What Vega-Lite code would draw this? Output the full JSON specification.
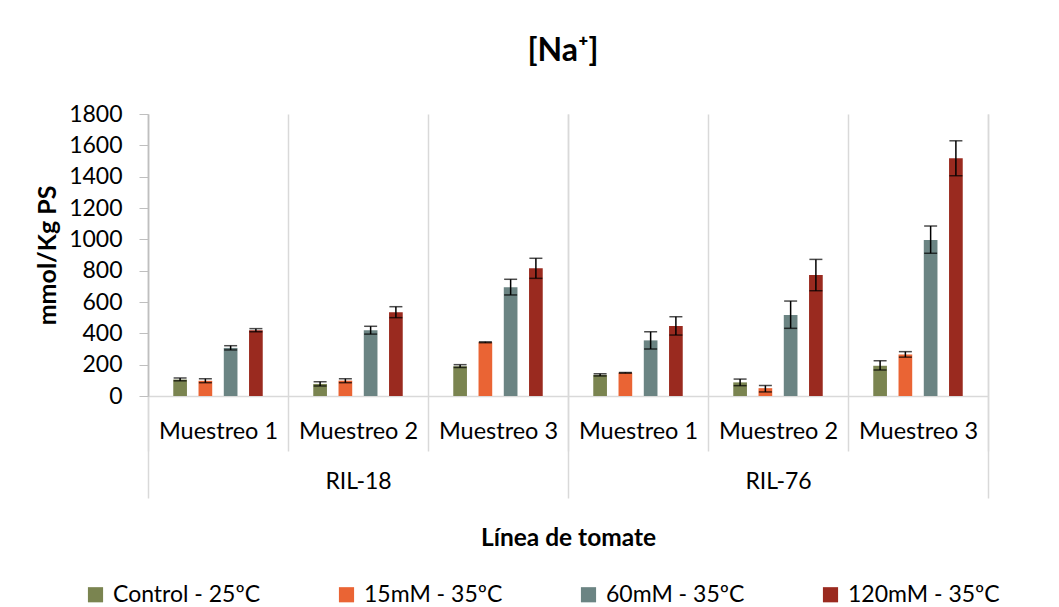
{
  "$schema": "https://vega.github.io/schema/vega-lite/v6.json",
  "autosize": "none",
  "width": 840,
  "height": 282,
  "padding": {"left": 148, "top": 114, "right": 71, "bottom": 211},
  "background": "white",
  "title": {"text": "[Na⁺]", "font": "Lato", "fontSize": 32, "fontWeight": "bold", "color": "#000000", "anchor": "middle", "frame": "group", "baseline": "middle", "offset": 20, "dx": -5},
  "config": {
    "view": {"stroke": null},
    "font": "Lato",
    "axis": {"labelFont": "Lato", "titleFont": "Lato", "labelColor": "#000000", "titleColor": "#000000"}
  },
  "data": {"values": [
    {"line": "RIL-18", "cat": "RIL-18|Muestreo 1", "serie": "Control - 25ºC", "value": 105, "lo": 97, "hi": 115},
    {"line": "RIL-18", "cat": "RIL-18|Muestreo 1", "serie": "15mM - 35ºC", "value": 97, "lo": 85, "hi": 110},
    {"line": "RIL-18", "cat": "RIL-18|Muestreo 1", "serie": "60mM - 35ºC", "value": 307, "lo": 294, "hi": 321},
    {"line": "RIL-18", "cat": "RIL-18|Muestreo 1", "serie": "120mM - 35ºC", "value": 420, "lo": 410, "hi": 430},
    {"line": "RIL-18", "cat": "RIL-18|Muestreo 2", "serie": "Control - 25ºC", "value": 77, "lo": 64, "hi": 91},
    {"line": "RIL-18", "cat": "RIL-18|Muestreo 2", "serie": "15mM - 35ºC", "value": 98, "lo": 85, "hi": 110},
    {"line": "RIL-18", "cat": "RIL-18|Muestreo 2", "serie": "60mM - 35ºC", "value": 420, "lo": 395, "hi": 445},
    {"line": "RIL-18", "cat": "RIL-18|Muestreo 2", "serie": "120mM - 35ºC", "value": 535, "lo": 500, "hi": 570},
    {"line": "RIL-18", "cat": "RIL-18|Muestreo 3", "serie": "Control - 25ºC", "value": 190, "lo": 182, "hi": 200},
    {"line": "RIL-18", "cat": "RIL-18|Muestreo 3", "serie": "15mM - 35ºC", "value": 343, "lo": 340, "hi": 346},
    {"line": "RIL-18", "cat": "RIL-18|Muestreo 3", "serie": "60mM - 35ºC", "value": 694, "lo": 645, "hi": 745},
    {"line": "RIL-18", "cat": "RIL-18|Muestreo 3", "serie": "120mM - 35ºC", "value": 815, "lo": 751, "hi": 879},
    {"line": "RIL-76", "cat": "RIL-76|Muestreo 1", "serie": "Control - 25ºC", "value": 135, "lo": 128, "hi": 142},
    {"line": "RIL-76", "cat": "RIL-76|Muestreo 1", "serie": "15mM - 35ºC", "value": 148, "lo": 146, "hi": 150},
    {"line": "RIL-76", "cat": "RIL-76|Muestreo 1", "serie": "60mM - 35ºC", "value": 355, "lo": 300, "hi": 410},
    {"line": "RIL-76", "cat": "RIL-76|Muestreo 1", "serie": "120mM - 35ºC", "value": 447, "lo": 389, "hi": 506},
    {"line": "RIL-76", "cat": "RIL-76|Muestreo 2", "serie": "Control - 25ºC", "value": 87, "lo": 66, "hi": 108},
    {"line": "RIL-76", "cat": "RIL-76|Muestreo 2", "serie": "15mM - 35ºC", "value": 50, "lo": 26, "hi": 67},
    {"line": "RIL-76", "cat": "RIL-76|Muestreo 2", "serie": "60mM - 35ºC", "value": 517, "lo": 432, "hi": 606},
    {"line": "RIL-76", "cat": "RIL-76|Muestreo 2", "serie": "120mM - 35ºC", "value": 772, "lo": 672, "hi": 872},
    {"line": "RIL-76", "cat": "RIL-76|Muestreo 3", "serie": "Control - 25ºC", "value": 193, "lo": 166, "hi": 225},
    {"line": "RIL-76", "cat": "RIL-76|Muestreo 3", "serie": "15mM - 35ºC", "value": 265, "lo": 248, "hi": 283},
    {"line": "RIL-76", "cat": "RIL-76|Muestreo 3", "serie": "60mM - 35ºC", "value": 995, "lo": 911, "hi": 1085},
    {"line": "RIL-76", "cat": "RIL-76|Muestreo 3", "serie": "120mM - 35ºC", "value": 1517, "lo": 1406, "hi": 1629}
  ]},
  "layer": [
    {
      "encoding": {
        "x": {"field": "cat", "type": "nominal",
              "sort": ["RIL-18|Muestreo 1", "RIL-18|Muestreo 2", "RIL-18|Muestreo 3", "RIL-76|Muestreo 1", "RIL-76|Muestreo 2", "RIL-76|Muestreo 3"],
              "scale": {"paddingInner": 0, "paddingOuter": 0},
              "axis": {"title": null, "orient": "bottom", "labelExpr": "split(datum.label, '|')[1]", "labelAngle": 0,
                       "labelFontSize": 23.5, "labelBaseline": "middle", "labelPadding": -20,
                       "tickBand": "extent", "tickSize": 55, "tickColor": "#d9d9d9", "tickWidth": 1.5,
                       "domainColor": "#d9d9d9", "domainWidth": 1.5,
                       "grid": true, "gridColor": "#d9d9d9", "gridWidth": 1.5}},
        "xOffset": {"field": "serie", "type": "nominal",
              "sort": ["Control - 25ºC", "15mM - 35ºC", "60mM - 35ºC", "120mM - 35ºC"],
              "scale": {"paddingInner": 0.458, "paddingOuter": 1.146}},
        "y": {"field": "value", "type": "quantitative",
              "scale": {"domain": [0, 1800], "nice": false},
              "axis": {"title": "mmol/Kg PS", "titleFontSize": 25, "titleFontWeight": "bold",
                       "titleX": -101, "titleY": 141, "titleBaseline": "middle", "titleAngle": -90,
                       "values": [0, 200, 400, 600, 800, 1000, 1200, 1400, 1600, 1800],
                       "tickCount": 10, "format": "d", "labelOverlap": false,
                       "labelFontSize": 23, "labelPadding": 17, "tickSize": 9, "tickColor": "#bfbfbf",
                       "domainColor": "#bfbfbf", "domainWidth": 1.5, "grid": false}}
      },
      "layer": [
        {
          "mark": {"type": "bar"},
          "encoding": {
            "color": {"field": "serie", "type": "nominal",
                      "sort": ["Control - 25ºC", "15mM - 35ºC", "60mM - 35ºC", "120mM - 35ºC"],
                      "scale": {"domain": ["Control - 25ºC", "15mM - 35ºC", "60mM - 35ºC", "120mM - 35ºC"],
                                "range": ["#7a8450", "#ea6434", "#6b8483", "#9a2a1f"]},
                      "legend": {"title": null, "orient": "none", "legendX": -64, "legendY": 469,
                                 "direction": "horizontal", "columns": 4, "columnPadding": 74,
                                 "symbolType": "square", "symbolSize": 230, "symbolStrokeWidth": 0,
                                 "labelFontSize": 23, "labelFont": "Lato", "labelColor": "#000000",
                                 "labelOffset": 6, "padding": 0}}
          }
        },
        {
          "mark": {"type": "rule", "color": "#000000", "strokeWidth": 1.5},
          "encoding": {
            "y": {"field": "lo", "type": "quantitative"},
            "y2": {"field": "hi"}
          }
        },
        {
          "mark": {"type": "tick", "color": "#000000", "thickness": 1.5, "size": 13},
          "encoding": {"y": {"field": "lo", "type": "quantitative"}}
        },
        {
          "mark": {"type": "tick", "color": "#000000", "thickness": 1.5, "size": 13},
          "encoding": {"y": {"field": "hi", "type": "quantitative"}}
        }
      ]
    },
    {
      "mark": {"type": "point", "opacity": 0},
      "encoding": {
        "x": {"field": "line", "type": "nominal", "scale": {"paddingInner": 0, "paddingOuter": 0},
              "axis": {"title": "Línea de tomate", "orient": "bottom", "titleFontSize": 24.5, "titleFontWeight": "bold",
                       "titleX": 420, "titleY": 142, "titleBaseline": "middle",
                       "labelAngle": 0, "labelFontSize": 23, "labelBaseline": "middle", "labelPadding": -17,
                       "tickBand": "extent", "tickSize": 102, "tickColor": "#d9d9d9", "tickWidth": 1.5,
                       "domain": false, "grid": true, "gridColor": "#d9d9d9", "gridWidth": 1.5}}
      }
    }
  ],
  "resolve": {"scale": {"x": "independent"}, "axis": {"x": "independent"}}
}
